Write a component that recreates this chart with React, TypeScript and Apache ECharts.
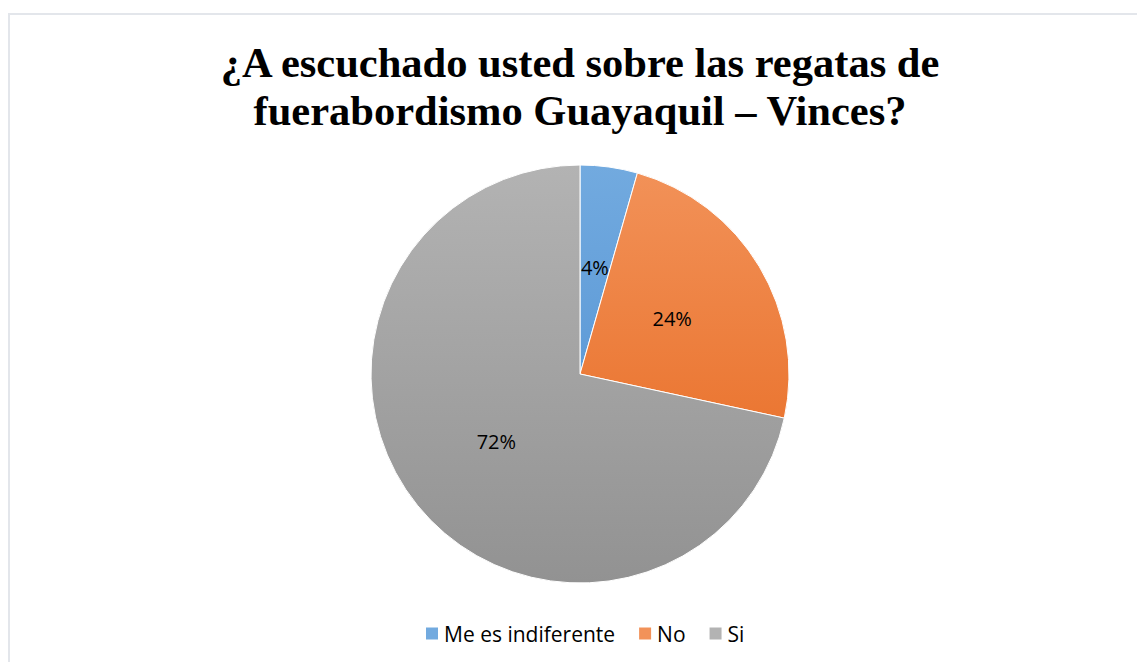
import React, { useEffect, useRef } from "react";
import * as echarts from "echarts";

const categories = ["Me es indiferente", "No", "Si"];
const counts = [17, 92, 275];
const titleLines = ["¿A escuchado usted sobre las regatas de", "fuerabordismo Guayaquil – Vinces?"];

const gradients = [
  ["#72aadf", "#4a8cd0"],
  ["#f29259", "#e6651a"],
  ["#b3b3b3", "#929292"],
];

export default function App() {
  const ref = useRef<HTMLDivElement>(null);
  useEffect(() => {
    document.body.style.margin = "0";
    const chart = echarts.init(ref.current!, null, { renderer: "svg" });
    const cy = 374;
    const r = 209;
    chart.setOption({
      animation: false,
      backgroundColor: "#ffffff",
      title: {
        text: titleLines.join("\n"),
        left: 575,
        textAlign: "center",
        top: 33,
        textStyle: {
          fontFamily: "Liberation Serif",
          fontWeight: "bold",
          fontSize: 42.5,
          lineHeight: 48,
          color: "#000000",
        },
      },
      graphic: [
        {
          type: "rect",
          shape: { x: 9, y: 14, width: 1200, height: 700 },
          style: { fill: "none", stroke: "#e3e6eb", lineWidth: 2 },
          silent: true,
        },
      ],
      legend: {
        bottom: 13,
        left: 419,
        itemWidth: 14,
        itemHeight: 14,
        itemGap: 22,
        icon: "rect",
        textStyle: { fontFamily: "Open Sans", fontSize: 21, color: "#000" },
        data: categories,
      },
      series: [
        {
          type: "pie",
          center: [580, cy],
          radius: r,
          startAngle: 90,
          clockwise: true,
          label: {
            show: true,
            position: "inside",
            fontFamily: "Open Sans",
            fontSize: 20,
            color: "#000",
            formatter: (p: any) => Math.round(p.percent) + "%",
          },
          labelLine: { show: false },
          itemStyle: { borderColor: "#ffffff", borderWidth: 1 },
          emphasis: { disabled: true },
          data: categories.map((name, i) => ({
            name,
            value: counts[i],
            itemStyle: {
              color: {
                type: "linear",
                x: 0,
                y: cy - r,
                x2: 0,
                y2: cy + r,
                global: true,
                colorStops: [
                  { offset: 0, color: gradients[i][0] },
                  { offset: 1, color: gradients[i][1] },
                ],
              },
            },
          })),
        },
      ],
    });
    return () => chart.dispose();
  }, []);
  return <div ref={ref} style={{ width: 1137, height: 662 }} />;
}
